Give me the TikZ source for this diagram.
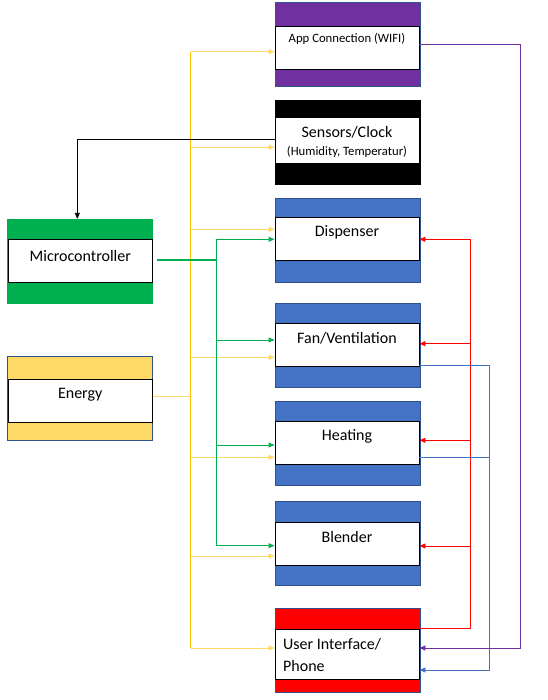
\documentclass[tikz,border=0pt]{standalone}
\usepackage{fontspec}
\setmainfont{Carlito}
\usetikzlibrary{arrows.meta}
\definecolor{unitblue}{HTML}{4472C4}
\definecolor{unitbd}{HTML}{2F528F}
\definecolor{wifipurple}{HTML}{7030A0}
\definecolor{ctrlgreen}{HTML}{00B050}
\definecolor{energyfill}{HTML}{FFD966}
\definecolor{powerbus}{HTML}{FFC000}
\definecolor{powerarr}{HTML}{FFD966}
\definecolor{uired}{HTML}{FF0000}

\begin{document}
\begin{tikzpicture}[x=1pt, y=-1pt, >={Triangle[length=6pt,width=5pt]},
  outer/.style={draw=unitbd, line width=0.8pt, minimum width=145pt,
    minimum height=84pt, inner sep=0pt},
  inner/.style={draw=black, fill=white, line width=0.9pt, minimum width=144pt,
    minimum height=43pt, inner sep=0pt},
  txt/.style={font=\fontsize{16}{19}\selectfont, inner sep=0pt},
  small/.style={font=\fontsize{12.7}{15}\selectfont, inner sep=0pt},
  bus/.style={color=powerbus, line width=1.1pt},
  feed/.style={<-, color=powerarr, line width=0.8pt},
  ctrl/.style={color=ctrlgreen, line width=1.1pt},
  ctrlarr/.style={<-, color=ctrlgreen, line width=0.9pt},
  uiwire/.style={color=uired, line width=0.8pt},
  fb/.style={color=unitblue, line width=0.8pt},
  wifi/.style={color=wifipurple, line width=0.8pt}
]
\useasboundingbox (0,0) rectangle (547,700);

% Right column: units
\node[outer, fill=wifipurple] (app) at (347.5,44.3) {};
\node[inner] (appI) at (347,47.7) {};
\node[small] (appT) at (347,39) {App Connection (WIFI)};

\node[outer, draw=black, fill=black] (sens) at (347.5,142.3) {};
\node[inner, minimum height=46pt] (sensI) at (347,140.8) {};
\node[txt] (sensT) at (347,132.7) {Sensors/Clock};
\node[small] (sensT2) at (347,152) {(Humidity, Temperatur)};

\node[outer, fill=unitblue] (disp) at (347.5,240.3) {};
\node[inner] (dispI) at (347,238.8) {};
\node[txt] (dispT) at (347,232.3) {Dispenser};

\node[outer, fill=unitblue] (fan) at (347.5,345.3) {};
\node[inner] (fanI) at (347,344.8) {};
\node[txt] (fanT) at (347,338) {Fan/Ventilation};

\node[outer, fill=unitblue] (heat) at (347.5,443.3) {};
\node[inner] (heatI) at (347,442.8) {};
\node[txt] (heatT) at (347,436) {Heating};

\node[outer, fill=unitblue] (blend) at (347.5,543.3) {};
\node[inner] (blendI) at (347,543.8) {};
\node[txt] (blendT) at (347,537) {Blender};

\node[outer, fill=uired] (ui) at (347.5,650.5) {};
\node[inner, minimum height=50pt] (uiI) at (347,654.3) {};
\node[txt, anchor=west] (uiT) at (283,644.3) {User Interface/};
\node[txt, anchor=west] (uiT2) at (283,666) {Phone};

% Left column
\node[outer, draw=ctrlgreen, fill=ctrlgreen] (micro) at (80.3,261.3) {};
\node[inner] (microI) at (80.3,260.8) {};
\node[txt] (microT) at (80.3,256) {Microcontroller};

\node[outer, fill=energyfill] (energy) at (80.2,398) {};
\node[inner] (energyI) at (80.2,400.8) {};
\node[txt] (energyT) at (80.2,395) {Energy};

% Power bus
\draw[bus] ([shift={(-84,4)}]appI.west) -- ([shift={(-84,-6.3)}]uiI.west);
\draw[powerarr, line width=0.8pt] ([shift={(0,-4)}]energyI.east) -- ++(39,0);
\foreach \n/\dy in {appI/4, sensI/6.5, dispI/-9.5, fanI/12.5, heatI/14.5, blendI/12.2, uiI/-6.3}
  \draw[feed] ([shift={(0,\dy)}]\n.west) -- ++(-84,0);

% Control lines
\draw[ctrl, line width=2pt] ([shift={(4,-1)}]microI.east) -- ++(60.4,0);
\draw[ctrl] ([shift={(-58.3,0.5)}]dispI.west) -- ([shift={(-58.3,1.9)}]blendI.west);
\foreach \n/\dy in {dispI/0.5, fanI/-4.8, heatI/2.2, blendI/1.9}
  \draw[ctrlarr] ([shift={(0,\dy)}]\n.west) -- ++(-58.3,0);

% Sensors to microcontroller
\draw[->, line width=0.8pt] ([shift={(0,-1.8)}]sensI.west) -| ([xshift=-3pt]micro.north);

% User interface to units
\draw[uiwire] (uiI.north east) -| ([shift={(51,0.5)}]dispI.east);
\foreach \n/\dy in {dispI/0.5, fanI/-1.1, heatI/-2.5, blendI/2.2}
  \draw[uiwire, <-] ([shift={(0,\dy)}]\n.east) -- ++(51,0);

% Feedback to user interface
\draw[fb, ->] ([shift={(0,-1)}]fanI.south east) -| ([shift={(70.3,15.7)}]uiI.east)
  -- ([shift={(0,15.7)}]uiI.east);
\draw[fb] ([shift={(0,14.5)}]heatI.east) -- ++(70.3,0);
\draw[wifi, ->] ([shift={(0,-3.7)}]appI.east) -| ([shift={(101,-6.3)}]uiI.east)
  -- ([shift={(0,-6.3)}]uiI.east);
\end{tikzpicture}
\end{document}
